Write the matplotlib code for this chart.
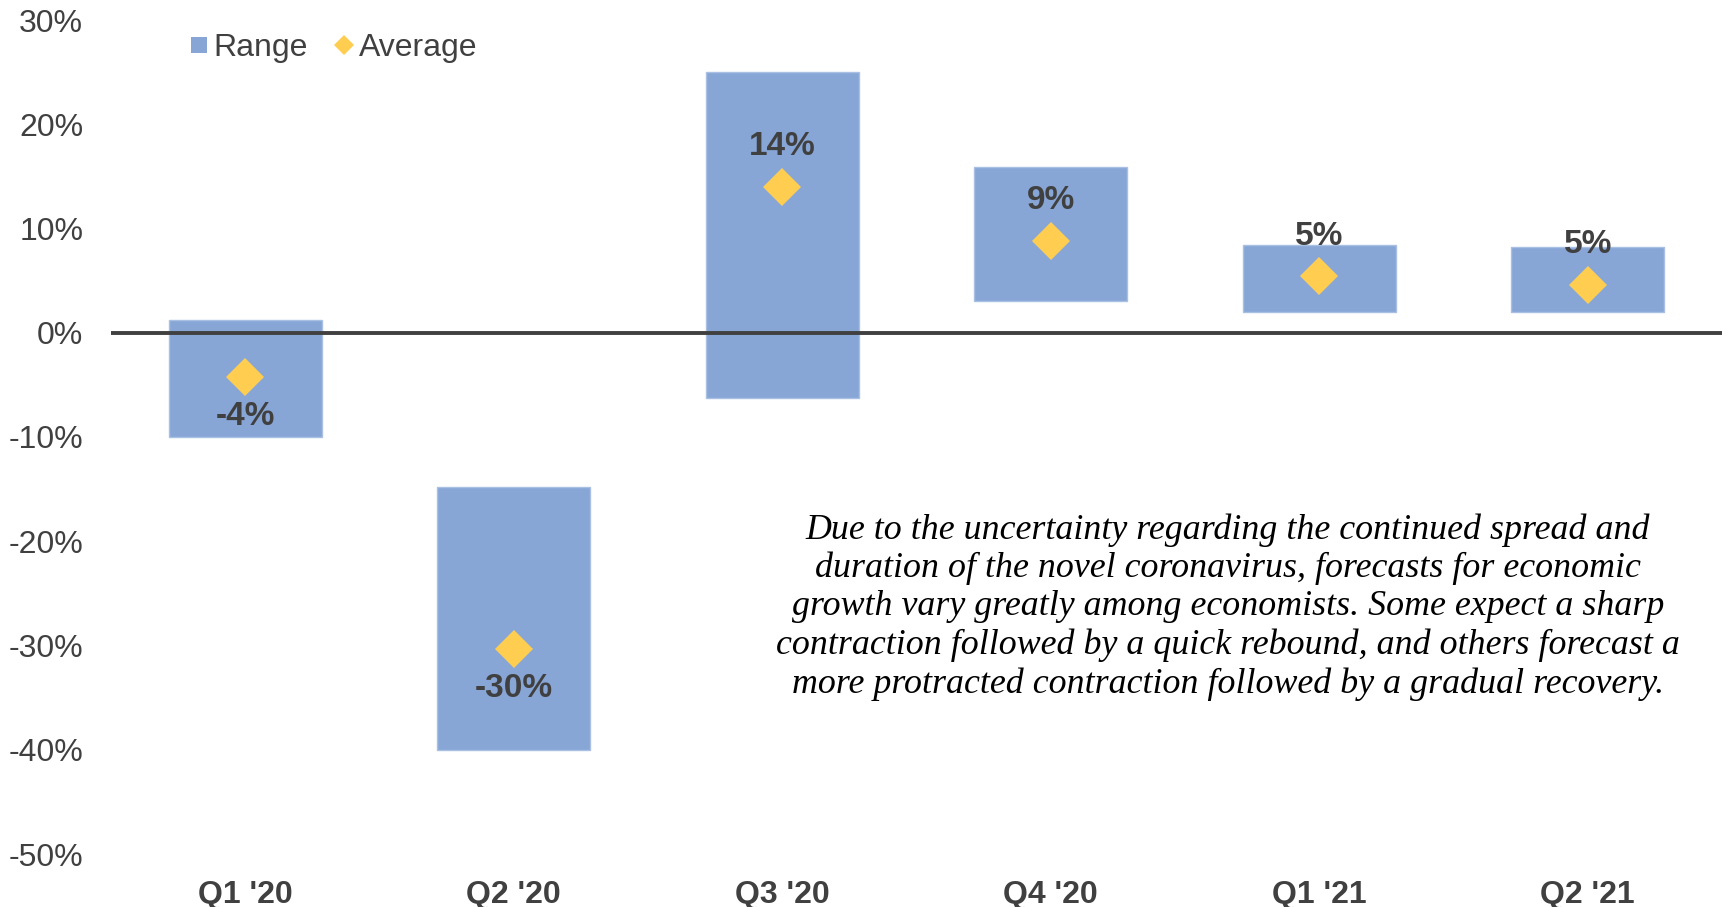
import matplotlib
matplotlib.use("Agg")
import matplotlib.pyplot as plt
from matplotlib.lines import Line2D
from matplotlib.ticker import FuncFormatter
import numpy as np

categories = ["Q1 '20", "Q2 '20", "Q3 '20", "Q4 '20", "Q1 '21", "Q2 '21"]
range_low = [-10.0, -40.0, -6.3, 3.0, 2.0, 2.0]
range_high = [1.2, -14.8, 25.0, 15.9, 8.4, 8.2]
average = [-4.2, -30.3, 14.0, 8.8, 5.4, 4.6]
yticks = [-50, -40, -30, -20, -10, 0, 10, 20, 30]

note = ("Due to the uncertainty regarding the continued spread and\n"
        "duration of the novel coronavirus, forecasts for economic\n"
        "growth vary greatly among economists. Some expect a sharp\n"
        "contraction followed by a quick rebound, and others forecast a\n"
        "more protracted contraction followed by a gradual recovery.")

BAR = "#87A6D6"
DIA = "#FFCD50"
TXT = "#404040"

plt.rcParams['font.family'] = ['Liberation Sans', 'DejaVu Sans']

W, H = 1729, 907
fig = plt.figure(figsize=(W / 100, H / 100), dpi=100)
ax = fig.add_axes([111 / W, 1 - 854 / H, (1722 - 111) / W, (854 - 20) / H])

x = np.arange(len(categories))
heights = [h - l for h, l in zip(range_high, range_low)]
ax.bar(x, heights, bottom=range_low, width=0.57, color=BAR,
       edgecolor="#A9C0E3", linewidth=1, zorder=2)
ax.axhline(0, color=TXT, lw=2.8, zorder=3)
ax.plot(x, average, linestyle="none", marker="D", ms=19.5, color=DIA,
        markeredgewidth=0, zorder=4)

for xi, v in zip(x, average):
    off = 29 if v > 0 else -29
    ax.annotate(f"{round(v):.0f}%", (xi, v), xytext=(0, off),
                textcoords="offset points", ha="center", va="center",
                fontsize=24, fontweight="bold", color=TXT, zorder=5)

ax.set_xlim(-0.5, len(categories) - 0.5)
ax.set_ylim(-50, 30)
ax.set_yticks(yticks)
ax.yaxis.set_major_formatter(FuncFormatter(lambda v, p: f"{v:.0f}%"))
ax.set_xticks(x)
ax.set_xticklabels(categories, fontsize=23, fontweight="bold", color=TXT)
ax.tick_params(axis="y", length=0, pad=20, labelsize=23, labelcolor=TXT)
ax.tick_params(axis="x", length=0, pad=19)
for s in ax.spines.values():
    s.set_visible(False)

handles = [Line2D([], [], linestyle="none", marker="s", ms=12, color=BAR, markeredgewidth=0),
           Line2D([], [], linestyle="none", marker="D", ms=10, color=DIA, markeredgewidth=0)]
fig.legend(handles, ["Range", "Average"], loc="center left",
           bbox_to_anchor=(189 / W, 1 - 48 / H), ncol=2, frameon=False,
           fontsize=23, labelcolor=TXT, handlelength=0.6, handletextpad=0.15,
           columnspacing=0.85, borderpad=0, borderaxespad=0)

fig.text(1228 / W, 1 - 607 / H, note, ha="center", va="center",
         fontsize=25.8, style="italic", family=["Liberation Serif", "DejaVu Serif"],
         color="black", linespacing=1.2)

fig.savefig("out.png", dpi=100, facecolor="white")
